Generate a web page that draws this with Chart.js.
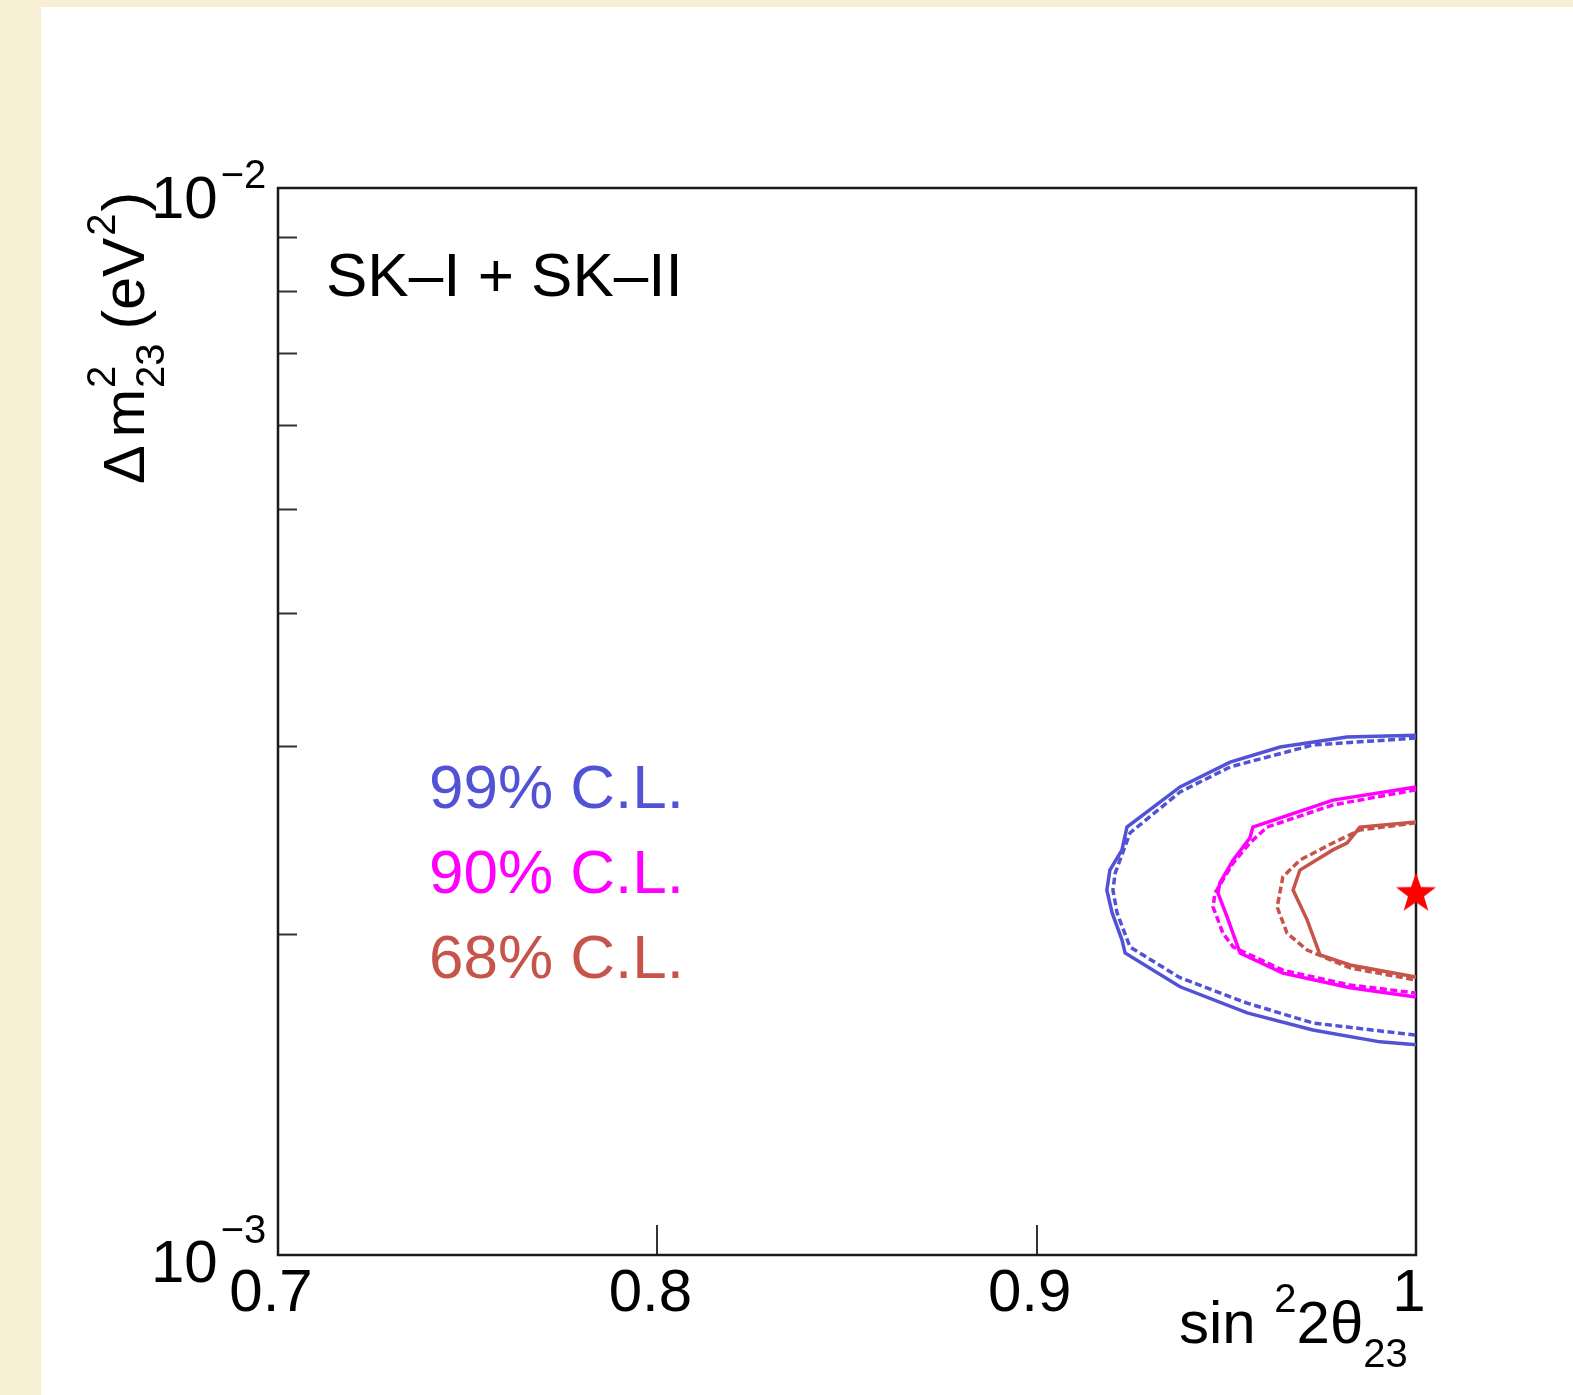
<!DOCTYPE html>
<html>
<head>
<meta charset="utf-8">
<script src="https://cdn.jsdelivr.net/npm/chart.js@4"></script>
<style>
  body { margin: 0; background: #f7efd4; }
  canvas { display: block; }
</style>
</head>
<body>
<canvas id="contourChart" width="1573" height="1395"></canvas>
<script>
// axis ranges and tick labels
const xRange = [0.7, 1.0];
const yRange = [1e-3, 1e-2];
const xTickValues = [0.7, 0.8, 0.9, 1.0];
const xTickLabels = ['0.7', '0.8', '0.9', '1'];
const yMinorTicks = [0.002, 0.003, 0.004, 0.005, 0.006, 0.007, 0.008, 0.009];
const yDecadeExponents = ['\u22123', '\u22122'];

// 99% C.L. contours
const cl99SolidX = [1.0, 0.9818, 0.9642, 0.9510, 0.9378, 0.9238, 0.9225, 0.9193, 0.9185, 0.9199, 0.9225, 0.9233, 0.9378, 0.9555, 0.9728, 0.9905, 1.0];
const cl99SolidY = [3.07e-3, 3.058e-3, 2.993e-3, 2.897e-3, 2.746e-3, 2.518e-3, 2.397e-3, 2.295e-3, 2.198e-3, 2.092e-3, 1.973e-3, 1.919e-3, 1.784e-3, 1.686e-3, 1.625e-3, 1.584e-3, 1.574e-3];
const cl99DashX = [1.0, 0.9728, 0.9510, 0.9378, 0.9246, 0.9207, 0.9201, 0.9212, 0.9246, 0.9378, 0.9555, 0.9728, 1.0];
const cl99DashY = [3.051e-3, 3.006e-3, 2.867e-3, 2.716e-3, 2.486e-3, 2.280e-3, 2.198e-3, 2.092e-3, 1.944e-3, 1.819e-3, 1.722e-3, 1.650e-3, 1.607e-3];

// 90% C.L. contours
const cl90SolidX = [1.0, 0.9781, 0.9570, 0.9562, 0.9518, 0.9483, 0.9478, 0.9502, 0.9536, 0.9649, 0.9826, 1.0];
const cl90SolidY = [2.746e-3, 2.669e-3, 2.518e-3, 2.459e-3, 2.345e-3, 2.232e-3, 2.184e-3, 2.074e-3, 1.919e-3, 1.837e-3, 1.780e-3, 1.745e-3];
const cl90DashX = [1.0, 0.9781, 0.9607, 0.9562, 0.9518, 0.9470, 0.9465, 0.9491, 0.9518, 0.9649, 0.9826, 1.0];
const cl90DashY = [2.729e-3, 2.641e-3, 2.518e-3, 2.433e-3, 2.330e-3, 2.184e-3, 2.119e-3, 2.003e-3, 1.944e-3, 1.849e-3, 1.791e-3, 1.760e-3];

// 68% C.L. contours
const cl68SolidX = [1.0, 0.9852, 0.9818, 0.9781, 0.9694, 0.9676, 0.9713, 0.9747, 0.9826, 1.0];
const cl68SolidY = [2.546e-3, 2.518e-3, 2.433e-3, 2.397e-3, 2.295e-3, 2.198e-3, 2.061e-3, 1.911e-3, 1.870e-3, 1.822e-3];
const cl68DashX = [1.0, 0.9852, 0.9781, 0.9694, 0.9649, 0.9634, 0.9660, 0.9713, 0.9826, 1.0];
const cl68DashY = [2.541e-3, 2.502e-3, 2.433e-3, 2.345e-3, 2.261e-3, 2.119e-3, 2.003e-3, 1.931e-3, 1.858e-3, 1.810e-3];

// best fit point
const bestFitX = [1.0];
const bestFitY = [2.19e-3];

const legendLabels = ['99% C.L.', '90% C.L.', '68% C.L.'];
const BLUE = 'rgb(82, 82, 214)';
const MAGENTA = '#ff00ff';
const BROWN = 'rgb(198, 84, 74)';
const FONT = "'Liberation Sans', Arial, Helvetica, sans-serif";

function toPoints(xs, ys) {
    return xs.map((x, i) => ({ x: x, y: ys[i] }));
}

function contour(xs, ys, color, dashed) {
    return {
        data: toPoints(xs, ys),
        showLine: true,
        borderColor: color,
        borderWidth: 3.5,
        borderDash: dashed ? [7, 3.5] : [],
        pointRadius: 0,
        tension: 0,
        clip: 0
    };
}

function makeStar(r) {
    const c = document.createElement('canvas');
    c.width = c.height = Math.ceil(r * 2 + 2);
    const g = c.getContext('2d');
    g.translate(c.width / 2, c.height / 2 + r * 0.1);
    g.beginPath();
    for (let i = 0; i < 10; i++) {
        const rr = i % 2 === 0 ? r : r * 0.4;
        const a = -Math.PI / 2 + i * Math.PI / 5;
        g.lineTo(rr * Math.cos(a), rr * Math.sin(a));
    }
    g.closePath();
    g.fillStyle = '#ff0000';
    g.fill();
    return c;
}

// draws text pieces with super/subscripts left to right, returns end x
function drawRich(ctx, parts, x, y) {
    parts.forEach(p => {
        ctx.font = p.size + 'px ' + FONT;
        ctx.fillText(p.text, x, y + (p.dy || 0));
        if (!p.stack) x += ctx.measureText(p.text).width + (p.gap || 0);
    });
    return x;
}

const decorations = {
    id: 'decorations',
    beforeDraw(chart) {
        const ctx = chart.ctx;
        ctx.save();
        ctx.fillStyle = '#f7efd4';
        ctx.fillRect(0, 0, chart.width, chart.height);
        ctx.fillStyle = '#ffffff';
        ctx.fillRect(41, 7, chart.width - 41, chart.height - 7);
        ctx.restore();
    },
    beforeDatasetsDraw(chart) {
        const { ctx, chartArea: a, scales } = chart;
        ctx.save();
        ctx.strokeStyle = '#333';
        ctx.lineWidth = 2;
        // inward ticks
        yMinorTicks.forEach(v => {
            const py = Math.round(scales.y.getPixelForValue(v)) + 0.5;
            ctx.beginPath();
            ctx.moveTo(a.left, py);
            ctx.lineTo(a.left + 19, py);
            ctx.stroke();
        });
        xTickValues.slice(1, -1).forEach(v => {
            const px = Math.round(scales.x.getPixelForValue(v));
            ctx.beginPath();
            ctx.moveTo(px, a.bottom);
            ctx.lineTo(px, a.bottom - 30);
            ctx.stroke();
        });
        // frame
        ctx.strokeStyle = '#1a1a1a';
        ctx.lineWidth = 2.5;
        ctx.strokeRect(a.left, a.top, a.right - a.left, a.bottom - a.top);
        ctx.restore();
    },
    afterDraw(chart) {
        const { ctx, chartArea: a, scales } = chart;
        ctx.save();
        ctx.fillStyle = '#000';
        ctx.textBaseline = 'alphabetic';

        // x tick labels
        ctx.textAlign = 'center';
        ctx.font = '60px ' + FONT;
        xTickValues.forEach((v, i) => {
            ctx.fillText(xTickLabels[i], scales.x.getPixelForValue(v) - 7, a.bottom + 56);
        });

        // y decade labels
        ctx.textAlign = 'left';
        [yRange[0], yRange[1]].forEach((v, i) => {
            const py = scales.y.getPixelForValue(v);
            const base = i === 0 ? py + 27 : py + 30;
            drawRich(ctx, [
                { text: '10', size: 60, gap: 3 },
                { text: yDecadeExponents[i], size: 40, dy: i === 0 ? -39 : -30 }
            ], 151, base);
        });

        // x axis title
        drawRich(ctx, [
            { text: 'sin ', size: 60, gap: 2 },
            { text: '2', size: 40, dy: -31 },
            { text: '2\u03b8', size: 60 },
            { text: '23', size: 40, dy: 24 }
        ], 1179, a.bottom + 88);

        // y axis title, rotated
        ctx.save();
        ctx.translate(144, 484);
        ctx.rotate(-Math.PI / 2);
        drawRich(ctx, [
            { text: '\u0394', size: 58, gap: 8 },
            { text: 'm', size: 58, gap: 1 },
            { text: '2', size: 40, dy: -29, stack: true },
            { text: '23', size: 40, dy: 20, gap: 14 },
            { text: '(eV', size: 59, gap: 2 },
            { text: '2', size: 40, dy: -29, gap: 2 },
            { text: ')', size: 59 }
        ], 0, 0);
        ctx.restore();

        // experiment label
        ctx.font = '62px ' + FONT;
        ctx.fillText('SK\u2013I + SK\u2013II', 326, 296);

        // C.L. labels
        [BLUE, MAGENTA, BROWN].forEach((c, i) => {
            ctx.fillStyle = c;
            ctx.fillText(legendLabels[i], 429, 808 + i * 85);
        });
        ctx.restore();
    }
};

new Chart(document.getElementById('contourChart').getContext('2d'), {
    type: 'scatter',
    data: {
        datasets: [
            contour(cl99SolidX, cl99SolidY, BLUE, false),
            contour(cl99DashX, cl99DashY, BLUE, true),
            contour(cl90SolidX, cl90SolidY, MAGENTA, false),
            contour(cl90DashX, cl90DashY, MAGENTA, true),
            contour(cl68SolidX, cl68SolidY, BROWN, false),
            contour(cl68DashX, cl68DashY, BROWN, true),
            {
                data: toPoints(bestFitX, bestFitY),
                pointStyle: makeStar(21),
                pointRadius: 20,
                showLine: false,
                clip: false
            }
        ]
    },
    options: {
        responsive: false,
        animation: false,
        events: [],
        layout: { padding: { left: 278, right: 157, top: 188, bottom: 140 } },
        plugins: { legend: { display: false }, tooltip: { enabled: false } },
        scales: {
            x: { type: 'linear', min: xRange[0], max: xRange[1], display: false },
            y: { type: 'logarithmic', min: yRange[0], max: yRange[1], display: false }
        }
    },
    plugins: [decorations]
});
</script>
</body>
</html>
